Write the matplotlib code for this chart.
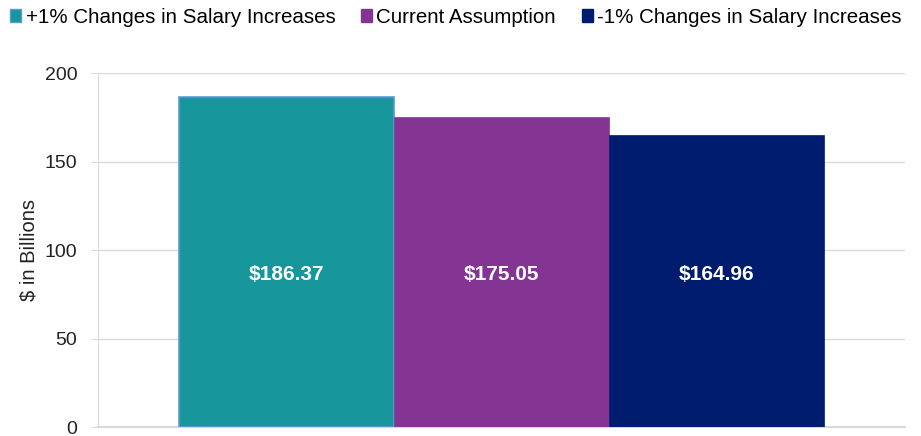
import numpy as np
import matplotlib
matplotlib.use("Agg")
from matplotlib import pyplot as plt
from matplotlib.patches import Patch

plt.rcParams['font.family'] = ['Liberation Sans', 'DejaVu Sans']

series = ["+1% Changes in Salary Increases", "Current Assumption",
          "-1% Changes in Salary Increases"]
values = [186.37, 175.05, 164.96]
labels = ["$186.37", "$175.05", "$164.96"]
colors = ["#17979b", "#843594", "#001c6e"]
edges = ["#5b9bd5", "#843594", "#001c6e"]

fig = plt.figure(figsize=(9.21, 4.36), dpi=100)
ax = fig.add_axes([0.1064, 0.02, 0.876, 0.8125])

w = 0.2665
offsets = np.array([-1, 0, 1]) * w
for i in range(3):
    ax.bar(offsets[i], values[i], width=w, color=colors[i], edgecolor=edges[i],
           linewidth=1.2 if i == 0 else 0.5, zorder=3)
    ax.text(offsets[i], 86, labels[i], ha="center", va="center",
            color="white", fontsize=15, fontweight="bold", zorder=4)

ax.set_xlim(-0.5, 0.5)
ax.set_ylim(0, 200)
ax.set_yticks([0, 50, 100, 150, 200])
ax.set_xticks([])
ax.yaxis.grid(True, color="#d9d9d9", linewidth=1, zorder=0)
for s in ["top", "right"]:
    ax.spines[s].set_visible(False)
ax.spines["left"].set_color("#d9d9d9")
ax.spines["bottom"].set_color("#d9d9d9")
ax.spines["bottom"].set_linewidth(1.5)
ax.tick_params(axis="y", labelsize=14, color="#d9d9d9", length=5, pad=10,
               labelcolor="#222222")
ax.set_ylabel("$ in Billions", fontsize=14.5, color="#222222", labelpad=4)

handles = [Patch(facecolor=colors[i], edgecolor=edges[i], label=series[i])
           for i in range(3)]
fig.legend(handles=handles, loc="upper center", bbox_to_anchor=(0.495, 1.025),
           ncol=3, frameon=False, fontsize=14.8, handlelength=0.55,
           handleheight=0.55, handletextpad=0.2, columnspacing=1.25)

fig.savefig("out.png", dpi=100)
